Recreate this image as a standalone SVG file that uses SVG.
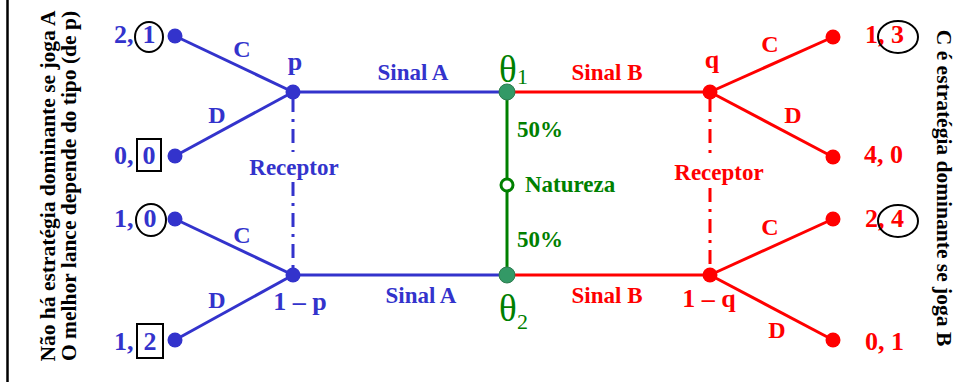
<svg xmlns="http://www.w3.org/2000/svg" width="961" height="382" viewBox="0 0 961 382">
<style>
text{font-family:"Liberation Serif","Times New Roman",serif;font-weight:bold}
.b{fill:#3333CC}
.r{fill:#FF0000}
.g{fill:#008000}
.k{fill:#000}
.pay{font-size:26px}
.lab{font-size:24px}
.pq{font-size:26px}
.sig{font-size:23px}
.side{font-size:21.5px}
.theta{font-weight:normal;font-size:37px}
.sub{font-weight:normal;font-size:22px}
.lb{stroke:#3333CC;stroke-width:3;fill:none}
.lr{stroke:#FF0000;stroke-width:3;fill:none}
.lg{stroke:#008000;stroke-width:3;fill:none}
.dd{stroke-dasharray:14,7,3,7}
.mark{fill:none;stroke:#000;stroke-width:2}
</style>
<line x1="7.5" y1="0" x2="7.5" y2="382" stroke="#000" stroke-width="2.5"/>
<text class="k side" transform="translate(55,186) rotate(-90)" text-anchor="middle">Não há estratégia dominante se joga A</text>
<text class="k side" transform="translate(76,186) rotate(-90)" text-anchor="middle">O melhor lance depende do tipo (de p)</text>
<text class="k side" transform="translate(937,188) rotate(90)" text-anchor="middle">C é estratégia dominante se joga B</text>
<g id="connectors">
<line class="lb" x1="175" y1="36" x2="293" y2="92"/>
<line class="lb" x1="175" y1="156" x2="293" y2="92"/>
<line class="lb" x1="175" y1="219" x2="293" y2="275"/>
<line class="lb" x1="175" y1="340" x2="293" y2="275"/>
<line class="lb" x1="293" y1="92" x2="507" y2="92"/>
<line class="lb" x1="293" y1="275" x2="507" y2="275"/>
<line class="lb dd" x1="293" y1="98" x2="293" y2="152"/>
<line class="lb dd" x1="293" y1="182" x2="293" y2="270"/>
<line class="lr" x1="507" y1="92" x2="710" y2="92"/>
<line class="lr" x1="507" y1="275" x2="710" y2="275"/>
<line class="lr" x1="710" y1="92" x2="833" y2="37"/>
<line class="lr" x1="710" y1="92" x2="833" y2="157"/>
<line class="lr" x1="710" y1="275" x2="833" y2="219"/>
<line class="lr" x1="710" y1="275" x2="833" y2="340"/>
<line class="lr dd" x1="710" y1="98" x2="710" y2="158"/>
<line class="lr dd" x1="710" y1="188" x2="710" y2="270"/>
<line class="lg" x1="507" y1="92" x2="507" y2="275"/>
<text class="b lab" x="242" y="57" text-anchor="middle">C</text>
<text class="b lab" x="217" y="123" text-anchor="middle">D</text>
<text class="b lab" x="242" y="243" text-anchor="middle">C</text>
<text class="b lab" x="217" y="308" text-anchor="middle">D</text>
<text class="r lab" x="770" y="52" text-anchor="middle">C</text>
<text class="r lab" x="793" y="123" text-anchor="middle">D</text>
<text class="r lab" x="770" y="235" text-anchor="middle">C</text>
<text class="r lab" x="777" y="338" text-anchor="middle">D</text>
<text class="b sig" x="413" y="80" text-anchor="middle">Sinal A</text>
<text class="b sig" x="421" y="303" text-anchor="middle">Sinal A</text>
<text class="r sig" x="607" y="80" text-anchor="middle">Sinal B</text>
<text class="r sig" x="607" y="303" text-anchor="middle">Sinal B</text>
<text class="b sig" x="294" y="175" text-anchor="middle">Receptor</text>
<text class="r sig" x="719" y="180" text-anchor="middle">Receptor</text>
<text class="g sig" x="517" y="137">50%</text>
<text class="g sig" x="517" y="247">50%</text>
</g>
<g id="leaf-a1"><circle cx="175" cy="36" r="7.5" fill="#3333CC"/><text class="b pay" x="114" y="43">2,</text><text class="b pay" x="149" y="43" text-anchor="middle">1</text><ellipse class="mark" cx="149" cy="37" rx="14" ry="15"/></g>
<g id="leaf-a2"><circle cx="175" cy="156" r="7.5" fill="#3333CC"/><text class="b pay" x="114" y="164">0,</text><text class="b pay" x="149" y="164" text-anchor="middle">0</text><rect class="mark" x="137" y="139" width="24" height="32"/></g>
<g id="leaf-a3"><circle cx="175" cy="219" r="7.5" fill="#3333CC"/><text class="b pay" x="114" y="227">1,</text><text class="b pay" x="150" y="227" text-anchor="middle">0</text><ellipse class="mark" cx="151" cy="220" rx="15" ry="16"/></g>
<g id="leaf-a4"><circle cx="175" cy="340" r="7.5" fill="#3333CC"/><text class="b pay" x="114" y="350">1,</text><text class="b pay" x="150" y="350" text-anchor="middle">2</text><rect class="mark" x="137" y="324" width="26" height="34"/></g>
<g id="node-p"><circle cx="293" cy="92" r="7.5" fill="#3333CC"/><text class="b pq" x="295" y="70" text-anchor="middle">p</text></g>
<g id="node-1p"><circle cx="293" cy="275" r="7.5" fill="#3333CC"/><text class="b pq" x="300" y="310" text-anchor="middle">1 – p</text></g>
<g id="node-theta1"><circle cx="507" cy="92" r="8" fill="#339966" stroke="#2E7D4F" stroke-width="1"/><text class="g theta" x="499" y="82">θ</text><text class="g sub" x="517" y="84">1</text></g>
<g id="node-theta2"><circle cx="507" cy="275" r="8" fill="#339966" stroke="#2E7D4F" stroke-width="1"/><text class="g theta" x="499" y="321">θ</text><text class="g sub" x="517" y="329">2</text></g>
<g id="node-natureza"><circle cx="507" cy="185" r="6" fill="#fff" stroke="#008000" stroke-width="3"/><text class="g sig" x="525" y="192">Natureza</text></g>
<g id="node-q"><circle cx="710" cy="92" r="7.5" fill="#FF0000"/><text class="r pq" x="712" y="68" text-anchor="middle">q</text></g>
<g id="node-1q"><circle cx="710" cy="275" r="7.5" fill="#FF0000"/><text class="r pq" x="709" y="307" text-anchor="middle">1 – q</text></g>
<g id="leaf-b1"><circle cx="833" cy="37" r="7.5" fill="#FF0000"/><text class="r pay" x="865" y="43">1, 3</text><ellipse class="mark" cx="898" cy="37" rx="20" ry="16"/></g>
<g id="leaf-b2"><circle cx="833" cy="157" r="7.5" fill="#FF0000"/><text class="r pay" x="864" y="163">4, 0</text></g>
<g id="leaf-b3"><circle cx="833" cy="219" r="7.5" fill="#FF0000"/><text class="r pay" x="865" y="227">2, 4</text><ellipse class="mark" cx="898" cy="221" rx="20" ry="16"/></g>
<g id="leaf-b4"><circle cx="833" cy="340" r="7.5" fill="#FF0000"/><text class="r pay" x="865" y="350">0, 1</text></g>
</svg>
